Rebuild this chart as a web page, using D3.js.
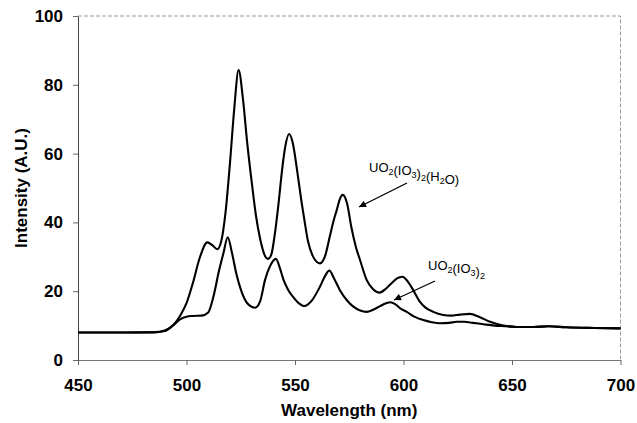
<!DOCTYPE html>
<html>
<head>
<meta charset="utf-8">
<script src="https://cdn.jsdelivr.net/npm/d3@7"></script>
<style>
  body { margin: 0; background: #fff; }
  svg { font-family: "Liberation Sans", Arial, sans-serif; }
  .tick text { font-weight: bold; font-size: 17px; fill: #000; }
</style>
</head>
<body>
<div id="chart"></div>
<script>
// Plot box
const W = 637, H = 423, margin = { top: 16, right: 16.5, bottom: 63, left: 78 };
const width = W - margin.left - margin.right, height = H - margin.top - margin.bottom;

// UO2(IO3)2(H2O) spectrum
const hydWl = [450, 470, 485, 490, 494, 497, 500, 503, 506, 509.6, 512, 514.2, 516, 518, 520, 522, 524, 526, 528, 530,
  532, 534, 536, 537.5, 539, 541, 542.5, 544, 545.5, 547.3, 549, 551, 553, 554.5, 556, 558, 561.5, 564, 566, 568,
  569.2, 570.5, 572, 574, 576, 578, 580, 583, 586, 589, 592, 595, 597, 599.5, 602, 604.5, 607.6, 610, 613.7, 618.3,
  622, 626, 630.6, 635, 639.9, 644, 647.5, 652, 660, 667, 675, 688, 700];
const hydInt = [8.0, 8.0, 8.1, 8.6, 10.2, 12.8, 16.5, 22.5, 29.5, 34.2, 33.3, 32.2, 34.5, 43, 57, 73, 84.3, 76, 63, 52,
  42, 35, 30.5, 29.4, 30.5, 38, 46, 55, 62, 65.7, 63, 55, 46, 40, 34.5, 30.5, 28.1, 30.5, 35.8, 41,
  43.5, 46.5, 48, 45.5, 38.5, 33, 29, 23.3, 20.6, 19.6, 20.8, 22.6, 23.7, 24.2, 22.8, 20.3, 16.9, 15.3, 14.0, 13.1,
  12.9, 13.2, 13.4, 12.5, 11.1, 10.3, 9.9, 9.6, 9.6, 9.8, 9.5, 9.3, 9.2];

// UO2(IO3)2 spectrum
const anhWl = [450, 470, 485, 490, 494, 497, 500, 503, 507, 510, 512.4, 515, 517, 519, 521, 523, 525.4, 528, 531.6, 534,
  536.2, 538.5, 541.2, 543, 544.6, 547, 549.2, 552, 554.1, 556, 558, 561.5, 564, 565.8, 568, 570.7, 574, 576.9, 580, 583,
  586, 589, 592, 594, 596, 598.5, 601.5, 605, 609.1, 613, 616.8, 621, 624.5, 628, 632, 636.8, 642, 647.5, 652, 660,
  667, 675, 688, 700];
const anhInt = [8.0, 8.0, 8.0, 8.4, 10.2, 11.8, 12.6, 12.8, 12.9, 13.8, 18.4, 26, 31, 35.7, 31, 25, 19.8, 16.5, 15.2, 17.2,
  23.3, 27.3, 29.4, 26.8, 23.5, 20.2, 18.3, 16.4, 15.7, 16.2, 17.5, 21.3, 24.6, 26.0, 23.7, 20.3, 17.3, 15.5, 14.4, 14.0,
  14.6, 15.6, 16.5, 16.8, 16.3, 15.0, 14.0, 12.6, 11.6, 11.0, 10.7, 10.8, 11.1, 11.1, 10.8, 10.4, 10.0, 9.8, 9.6, 9.6,
  9.8, 9.5, 9.3, 9.2];

const xTicks = [450, 500, 550, 600, 650, 700];
const yTicks = [0, 20, 40, 60, 80, 100];

const svg = d3.select("#chart").append("svg")
  .attr("width", W).attr("height", H);

svg.append("defs").append("marker")
  .attr("id", "arrow")
  .attr("viewBox", "0 0 10 10")
  .attr("refX", 10).attr("refY", 5)
  .attr("markerWidth", 9).attr("markerHeight", 7)
  .attr("markerUnits", "userSpaceOnUse")
  .attr("orient", "auto")
  .append("path").attr("d", "M0,0 L10,5 L0,10 z").attr("fill", "#000");

const g = svg.append("g").attr("transform", `translate(${margin.left},${margin.top})`);

const x = d3.scaleLinear().domain([450, 700]).range([0, width]);
const y = d3.scaleLinear().domain([0, 100]).range([height, 0]);

// dashed frame on top and right
g.append("path")
  .attr("d", `M0,0 H${width} V${height}`)
  .attr("fill", "none").attr("stroke", "#999").attr("stroke-width", 1)
  .attr("stroke-dasharray", "4,2");

// axes
const xAxis = g.append("g")
  .attr("transform", `translate(0,${height})`)
  .call(d3.axisBottom(x).tickValues(xTicks).tickSize(5).tickPadding(14).tickSizeOuter(0));
const yAxis = g.append("g")
  .call(d3.axisLeft(y).tickValues(yTicks).tickSize(5).tickPadding(10).tickSizeOuter(0));
xAxis.select(".domain").attr("stroke", "#777");
yAxis.select(".domain").attr("stroke", "#444");
xAxis.selectAll(".tick line").attr("stroke", "#666");
yAxis.selectAll(".tick line").attr("stroke", "#666");

// curves
const line = d3.line()
  .x(d => x(d[0]))
  .y(d => y(d[1]))
  .curve(d3.curveMonotoneX);

[[hydWl, hydInt], [anhWl, anhInt]].forEach(([wl, inten]) => {
  g.append("path")
    .datum(d3.zip(wl, inten))
    .attr("fill", "none")
    .attr("stroke", "#000")
    .attr("stroke-width", 2.1)
    .attr("stroke-linejoin", "round")
    .attr("d", line);
});

// axis titles
svg.append("text")
  .attr("x", margin.left + width / 2).attr("y", 416)
  .attr("text-anchor", "middle")
  .attr("font-size", 17).attr("font-weight", "bold")
  .text("Wavelength (nm)");

svg.append("text")
  .attr("transform", `translate(27,${margin.top + height / 2}) rotate(-90)`)
  .attr("text-anchor", "middle")
  .attr("font-size", 17).attr("font-weight", "bold")
  .text("Intensity (A.U.)");

// annotations with subscripts
function formula(xp, yp, parts) {
  const t = svg.append("text").attr("x", xp).attr("y", yp).attr("font-size", 13);
  parts.forEach(p => {
    if (p.sub) {
      t.append("tspan").attr("font-size", 9).attr("dy", 3).text(p.sub);
      t.append("tspan").attr("dy", -3).text("");
    } else {
      t.append("tspan").text(p.t);
    }
  });
}
formula(369, 172, [{ t: "UO" }, { sub: "2" }, { t: "(IO" }, { sub: "3" }, { t: ")" }, { sub: "2" }, { t: "(H" }, { sub: "2" }, { t: "O)" }]);
formula(428, 270, [{ t: "UO" }, { sub: "2" }, { t: "(IO" }, { sub: "3" }, { t: ")" }, { sub: "2" }]);

svg.append("line")
  .attr("x1", 407).attr("y1", 183).attr("x2", 359).attr("y2", 207)
  .attr("stroke", "#000").attr("stroke-width", 1.3).attr("marker-end", "url(#arrow)");
svg.append("line")
  .attr("x1", 435).attr("y1", 281).attr("x2", 394).attr("y2", 300)
  .attr("stroke", "#000").attr("stroke-width", 1.3).attr("marker-end", "url(#arrow)");
</script>
</body>
</html>
